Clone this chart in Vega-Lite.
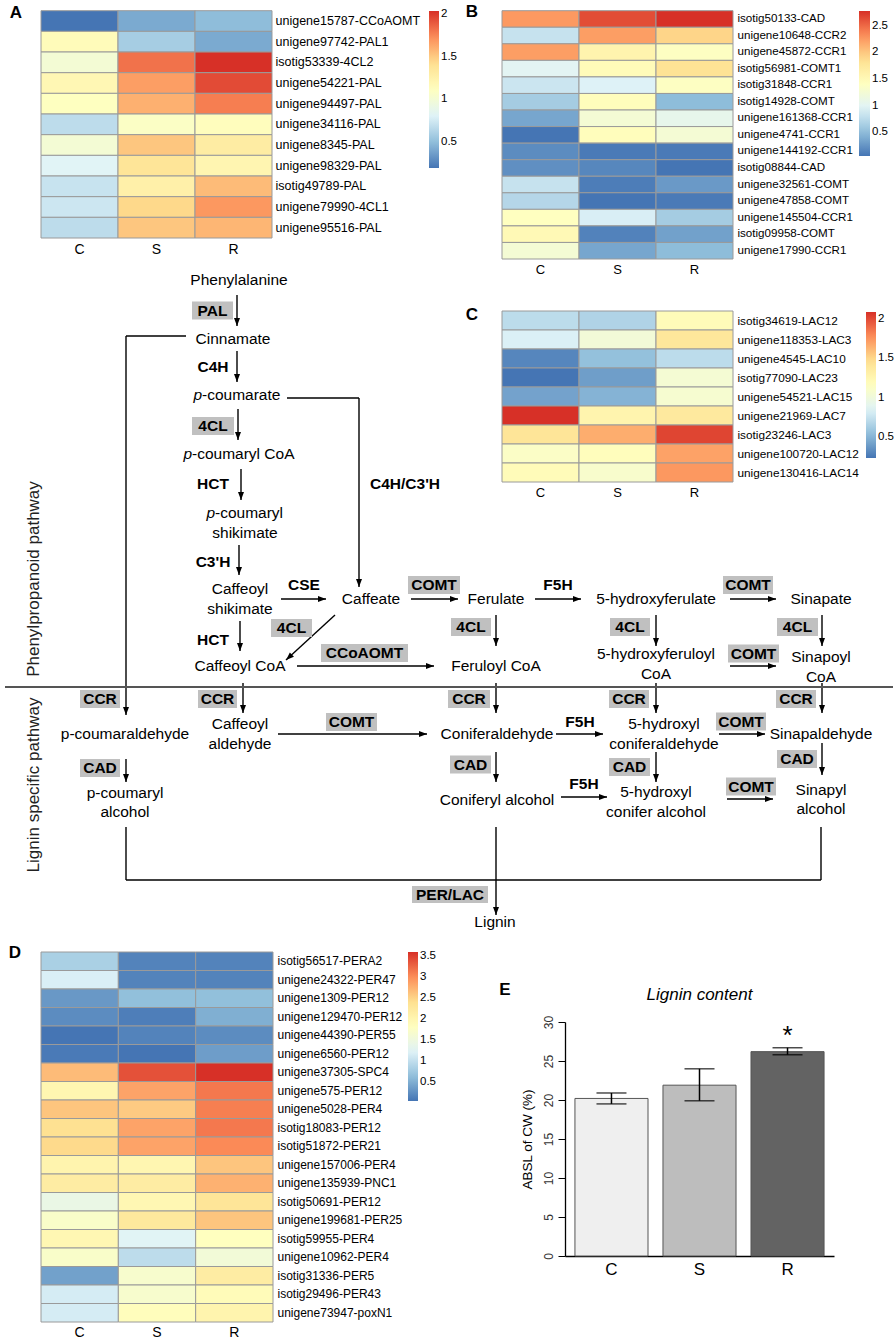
{
"$schema":"https://vega.github.io/schema/vega-lite/v6.json",
"width":895,"height":1339,"padding":0,"autosize":{"type":"none"},"background":"white",
"config":{"view":{"stroke":null},"font":"Liberation Sans"},
"datasets":{
"heatA":[
{"gene":"unigene15787-CCoAOMT","group":"C","value":0.19},{"gene":"unigene15787-CCoAOMT","group":"S","value":0.41},{"gene":"unigene15787-CCoAOMT","group":"R","value":0.49},
{"gene":"unigene97742-PAL1","group":"C","value":1.15},{"gene":"unigene97742-PAL1","group":"S","value":0.58},{"gene":"unigene97742-PAL1","group":"R","value":0.41},
{"gene":"isotig53339-4CL2","group":"C","value":1.0},{"gene":"isotig53339-4CL2","group":"S","value":1.82},{"gene":"isotig53339-4CL2","group":"R","value":2.04},
{"gene":"unigene54221-PAL","group":"C","value":1.19},{"gene":"unigene54221-PAL","group":"S","value":1.67},{"gene":"unigene54221-PAL","group":"R","value":1.95},
{"gene":"unigene94497-PAL","group":"C","value":1.11},{"gene":"unigene94497-PAL","group":"S","value":1.6},{"gene":"unigene94497-PAL","group":"R","value":1.78},
{"gene":"unigene34116-PAL","group":"C","value":0.67},{"gene":"unigene34116-PAL","group":"S","value":1.08},{"gene":"unigene34116-PAL","group":"R","value":1.13},
{"gene":"unigene8345-PAL","group":"C","value":1.0},{"gene":"unigene8345-PAL","group":"S","value":1.52},{"gene":"unigene8345-PAL","group":"R","value":1.3},
{"gene":"unigene98329-PAL","group":"C","value":0.82},{"gene":"unigene98329-PAL","group":"S","value":1.37},{"gene":"unigene98329-PAL","group":"R","value":1.21},
{"gene":"isotig49789-PAL","group":"C","value":0.71},{"gene":"isotig49789-PAL","group":"S","value":1.26},{"gene":"isotig49789-PAL","group":"R","value":1.56},
{"gene":"unigene79990-4CL1","group":"C","value":0.73},{"gene":"unigene79990-4CL1","group":"S","value":1.45},{"gene":"unigene79990-4CL1","group":"R","value":1.69},
{"gene":"unigene95516-PAL","group":"C","value":0.67},{"gene":"unigene95516-PAL","group":"S","value":1.52},{"gene":"unigene95516-PAL","group":"R","value":1.58}],
"heatB":[
{"gene":"isotig50133-CAD","group":"C","value":2.26},{"gene":"isotig50133-CAD","group":"S","value":2.64},{"gene":"isotig50133-CAD","group":"R","value":2.78},
{"gene":"unigene10648-CCR2","group":"C","value":0.81},{"gene":"unigene10648-CCR2","group":"S","value":2.23},{"gene":"unigene10648-CCR2","group":"R","value":1.93},
{"gene":"unigene45872-CCR1","group":"C","value":2.23},{"gene":"unigene45872-CCR1","group":"S","value":1.58},{"gene":"unigene45872-CCR1","group":"R","value":1.39},
{"gene":"isotig56981-COMT1","group":"C","value":1.0},{"gene":"isotig56981-COMT1","group":"S","value":1.47},{"gene":"isotig56981-COMT1","group":"R","value":1.82},
{"gene":"isotig31848-CCR1","group":"C","value":0.84},{"gene":"isotig31848-CCR1","group":"S","value":0.95},{"gene":"isotig31848-CCR1","group":"R","value":1.39},
{"gene":"isotig14928-COMT","group":"C","value":0.62},{"gene":"isotig14928-COMT","group":"S","value":1.44},{"gene":"isotig14928-COMT","group":"R","value":0.49},
{"gene":"unigene161368-CCR1","group":"C","value":0.35},{"gene":"unigene161368-CCR1","group":"S","value":1.25},{"gene":"unigene161368-CCR1","group":"R","value":1.06},
{"gene":"unigene4741-CCR1","group":"C","value":0.05},{"gene":"unigene4741-CCR1","group":"S","value":1.44},{"gene":"unigene4741-CCR1","group":"R","value":1.25},
{"gene":"unigene144192-CCR1","group":"C","value":0.19},{"gene":"unigene144192-CCR1","group":"S","value":0.08},{"gene":"unigene144192-CCR1","group":"R","value":0.08},
{"gene":"isotig08844-CAD","group":"C","value":0.21},{"gene":"isotig08844-CAD","group":"S","value":0.16},{"gene":"isotig08844-CAD","group":"R","value":0.05},
{"gene":"unigene32561-COMT","group":"C","value":0.81},{"gene":"unigene32561-COMT","group":"S","value":0.1},{"gene":"unigene32561-COMT","group":"R","value":0.27},
{"gene":"unigene47858-COMT","group":"C","value":0.71},{"gene":"unigene47858-COMT","group":"S","value":0.05},{"gene":"unigene47858-COMT","group":"R","value":0.08},
{"gene":"unigene145504-CCR1","group":"C","value":1.41},{"gene":"unigene145504-CCR1","group":"S","value":0.92},{"gene":"unigene145504-CCR1","group":"R","value":0.62},
{"gene":"isotig09958-COMT","group":"C","value":1.5},{"gene":"isotig09958-COMT","group":"S","value":0.13},{"gene":"isotig09958-COMT","group":"R","value":0.32},
{"gene":"unigene17990-CCR1","group":"C","value":1.25},{"gene":"unigene17990-CCR1","group":"S","value":0.35},{"gene":"unigene17990-CCR1","group":"R","value":0.49}],
"heatC":[
{"gene":"isotig34619-LAC12","group":"C","value":0.71},{"gene":"isotig34619-LAC12","group":"S","value":0.66},{"gene":"isotig34619-LAC12","group":"R","value":1.2},
{"gene":"unigene118353-LAC3","group":"C","value":0.83},{"gene":"unigene118353-LAC3","group":"S","value":1.03},{"gene":"unigene118353-LAC3","group":"R","value":1.4},
{"gene":"unigene4545-LAC10","group":"C","value":0.3},{"gene":"unigene4545-LAC10","group":"S","value":0.55},{"gene":"unigene4545-LAC10","group":"R","value":0.71},
{"gene":"isotig77090-LAC23","group":"C","value":0.23},{"gene":"isotig77090-LAC23","group":"S","value":0.4},{"gene":"isotig77090-LAC23","group":"R","value":1.05},
{"gene":"unigene54521-LAC15","group":"C","value":0.42},{"gene":"unigene54521-LAC15","group":"S","value":0.49},{"gene":"unigene54521-LAC15","group":"R","value":1.07},
{"gene":"unigene21969-LAC7","group":"C","value":2.09},{"gene":"unigene21969-LAC7","group":"S","value":1.27},{"gene":"unigene21969-LAC7","group":"R","value":1.38},
{"gene":"isotig23246-LAC3","group":"C","value":1.42},{"gene":"isotig23246-LAC3","group":"S","value":1.66},{"gene":"isotig23246-LAC3","group":"R","value":2.02},
{"gene":"unigene100720-LAC12","group":"C","value":1.12},{"gene":"unigene100720-LAC12","group":"S","value":1.18},{"gene":"unigene100720-LAC12","group":"R","value":1.7},
{"gene":"unigene130416-LAC14","group":"C","value":1.2},{"gene":"unigene130416-LAC14","group":"S","value":1.09},{"gene":"unigene130416-LAC14","group":"R","value":1.74}],
"heatD":[
{"gene":"isotig56517-PERA2","group":"C","value":0.83},{"gene":"isotig56517-PERA2","group":"S","value":0.16},{"gene":"isotig56517-PERA2","group":"R","value":0.16},
{"gene":"unigene24322-PER47","group":"C","value":1.19},{"gene":"unigene24322-PER47","group":"S","value":0.16},{"gene":"unigene24322-PER47","group":"R","value":0.16},
{"gene":"unigene1309-PER12","group":"C","value":0.33},{"gene":"unigene1309-PER12","group":"S","value":0.65},{"gene":"unigene1309-PER12","group":"R","value":0.65},
{"gene":"unigene129470-PER12","group":"C","value":0.23},{"gene":"unigene129470-PER12","group":"S","value":0.12},{"gene":"unigene129470-PER12","group":"R","value":0.51},
{"gene":"unigene44390-PER55","group":"C","value":0.05},{"gene":"unigene44390-PER55","group":"S","value":0.16},{"gene":"unigene44390-PER55","group":"R","value":0.23},
{"gene":"unigene6560-PER12","group":"C","value":0.09},{"gene":"unigene6560-PER12","group":"S","value":0.05},{"gene":"unigene6560-PER12","group":"R","value":0.37},
{"gene":"unigene37305-SPC4","group":"C","value":2.68},{"gene":"unigene37305-SPC4","group":"S","value":3.39},{"gene":"unigene37305-SPC4","group":"R","value":3.6},
{"gene":"unigene575-PER12","group":"C","value":2.0},{"gene":"unigene575-PER12","group":"S","value":2.85},{"gene":"unigene575-PER12","group":"R","value":3.14},
{"gene":"unigene5028-PER4","group":"C","value":2.61},{"gene":"unigene5028-PER4","group":"S","value":2.57},{"gene":"unigene5028-PER4","group":"R","value":3.1},
{"gene":"isotig18083-PER12","group":"C","value":2.39},{"gene":"isotig18083-PER12","group":"S","value":2.85},{"gene":"isotig18083-PER12","group":"R","value":3.14},
{"gene":"isotig51872-PER21","group":"C","value":2.46},{"gene":"isotig51872-PER21","group":"S","value":2.85},{"gene":"isotig51872-PER21","group":"R","value":3.03},
{"gene":"unigene157006-PER4","group":"C","value":2.04},{"gene":"unigene157006-PER4","group":"S","value":2.0},{"gene":"unigene157006-PER4","group":"R","value":2.61},
{"gene":"unigene135939-PNC1","group":"C","value":2.18},{"gene":"unigene135939-PNC1","group":"S","value":2.18},{"gene":"unigene135939-PNC1","group":"R","value":2.75},
{"gene":"isotig50691-PER12","group":"C","value":1.43},{"gene":"isotig50691-PER12","group":"S","value":1.97},{"gene":"isotig50691-PER12","group":"R","value":2.32},
{"gene":"unigene199681-PER25","group":"C","value":1.72},{"gene":"unigene199681-PER25","group":"S","value":2.25},{"gene":"unigene199681-PER25","group":"R","value":2.61},
{"gene":"isotig59955-PER4","group":"C","value":1.97},{"gene":"isotig59955-PER4","group":"S","value":1.26},{"gene":"isotig59955-PER4","group":"R","value":1.83},
{"gene":"unigene10962-PER4","group":"C","value":1.72},{"gene":"unigene10962-PER4","group":"S","value":0.97},{"gene":"unigene10962-PER4","group":"R","value":1.58},
{"gene":"isotig31336-PER5","group":"C","value":0.4},{"gene":"isotig31336-PER5","group":"S","value":1.68},{"gene":"isotig31336-PER5","group":"R","value":2.18},
{"gene":"isotig29496-PER43","group":"C","value":1.15},{"gene":"isotig29496-PER43","group":"S","value":1.68},{"gene":"isotig29496-PER43","group":"R","value":1.9},
{"gene":"unigene73947-poxN1","group":"C","value":1.15},{"gene":"unigene73947-poxN1","group":"S","value":1.86},{"gene":"unigene73947-poxN1","group":"R","value":2.04}],
"lignin":[
{"group":"C","mean":20.2,"lo":19.5,"hi":20.9,"sig":""},
{"group":"S","mean":21.9,"lo":19.9,"hi":24.0,"sig":""},
{"group":"R","mean":26.2,"lo":25.8,"hi":26.7,"sig":"*"}],
"nodes":[
{"label":"A","x":16,"y":13,"kind":"letter"},{"label":"B","x":472,"y":12,"kind":"letter"},{"label":"C","x":472,"y":315,"kind":"letter"},{"label":"D","x":15,"y":953,"kind":"letter"},{"label":"E","x":505,"y":990,"kind":"letter"},
{"label":"Phenylpropanoid pathway","x":34,"y":579,"kind":"side"},{"label":"Lignin specific pathway","x":34,"y":785,"kind":"side"},
{"label":"Phenylalanine","x":239,"y":280,"kind":"m"},
{"label":"Cinnamate","x":233,"y":339,"kind":"m"},
{"label":"p","x":202,"y":395,"kind":"pre"},{"label":"-coumarate","x":202,"y":395,"kind":"suf"},
{"label":"p","x":192,"y":454,"kind":"pre"},{"label":"-coumaryl CoA","x":192,"y":454,"kind":"suf"},
{"label":"p","x":215,"y":513,"kind":"pre"},{"label":"-coumaryl","x":215,"y":513,"kind":"suf"},
{"label":"shikimate","x":245,"y":533,"kind":"m"},
{"label":"Caffeoyl","x":240,"y":589,"kind":"m"},{"label":"shikimate","x":240,"y":609,"kind":"m"},
{"label":"Caffeate","x":371,"y":599,"kind":"m"},
{"label":"Ferulate","x":496,"y":599,"kind":"m"},
{"label":"5-hydroxyferulate","x":656,"y":599,"kind":"m"},
{"label":"Sinapate","x":821,"y":599,"kind":"m"},
{"label":"Caffeoyl CoA","x":240,"y":666,"kind":"m"},
{"label":"Feruloyl CoA","x":496,"y":666,"kind":"m"},
{"label":"5-hydroxyferuloyl","x":656,"y":654,"kind":"m"},{"label":"CoA","x":656,"y":674,"kind":"m"},
{"label":"Sinapoyl","x":821,"y":657,"kind":"m"},{"label":"CoA","x":821,"y":677,"kind":"m"},
{"label":"p-coumaraldehyde","x":125,"y":734,"kind":"m"},
{"label":"Caffeoyl","x":240,"y":724,"kind":"m"},{"label":"aldehyde","x":240,"y":744,"kind":"m"},
{"label":"Coniferaldehyde","x":497,"y":734,"kind":"m"},
{"label":"5-hydroxyl","x":664,"y":724,"kind":"m"},{"label":"coniferaldehyde","x":664,"y":744,"kind":"m"},
{"label":"Sinapaldehyde","x":821,"y":734,"kind":"m"},
{"label":"p-coumaryl","x":125,"y":793,"kind":"m"},{"label":"alcohol","x":125,"y":812,"kind":"m"},
{"label":"Coniferyl alcohol","x":497,"y":800,"kind":"m"},
{"label":"5-hydroxyl","x":656,"y":792,"kind":"m"},{"label":"conifer alcohol","x":656,"y":812,"kind":"m"},
{"label":"Sinapyl","x":821,"y":790,"kind":"m"},{"label":"alcohol","x":821,"y":809,"kind":"m"},
{"label":"Lignin","x":495,"y":922,"kind":"m"}],
"enzymes":[
{"label":"PAL","cx":212.5,"cy":310.5,"x0":192,"x1":233,"y0":301.5,"y1":319.5},
{"label":"C4H","cx":213,"cy":367},
{"label":"4CL","cx":213,"cy":426,"x0":192,"x1":234,"y0":417,"y1":435},
{"label":"HCT","cx":213,"cy":484},
{"label":"C3'H","cx":213,"cy":562},
{"label":"C4H/C3'H","cx":405,"cy":484},
{"label":"CSE","cx":304,"cy":585},
{"label":"COMT","cx":434,"cy":585,"x0":408,"x1":460,"y0":576,"y1":594},
{"label":"F5H","cx":558,"cy":585},
{"label":"COMT","cx":748,"cy":585,"x0":723,"x1":773,"y0":576,"y1":594},
{"label":"HCT","cx":213,"cy":640},
{"label":"4CL","cx":291.5,"cy":628,"x0":271,"x1":312,"y0":619,"y1":637},
{"label":"CCoAOMT","cx":364.5,"cy":653,"x0":321,"x1":408,"y0":644,"y1":662},
{"label":"4CL","cx":471,"cy":627,"x0":451,"x1":491,"y0":618,"y1":636},
{"label":"4CL","cx":630,"cy":627,"x0":610,"x1":650,"y0":618,"y1":636},
{"label":"COMT","cx":753.5,"cy":653.5,"x0":728,"x1":779,"y0":644.5,"y1":662.5},
{"label":"4CL","cx":797.5,"cy":627,"x0":777,"x1":818,"y0":618,"y1":636},
{"label":"CCR","cx":100,"cy":699,"x0":80,"x1":120,"y0":690,"y1":708},
{"label":"CCR","cx":217.5,"cy":699,"x0":198,"x1":237,"y0":690,"y1":708},
{"label":"CCR","cx":469,"cy":699,"x0":448,"x1":490,"y0":690,"y1":708},
{"label":"CCR","cx":629,"cy":699,"x0":609,"x1":649,"y0":690,"y1":708},
{"label":"CCR","cx":796,"cy":699,"x0":776,"x1":816,"y0":690,"y1":708},
{"label":"COMT","cx":351.5,"cy":722,"x0":326,"x1":377,"y0":713,"y1":731},
{"label":"F5H","cx":580,"cy":722},
{"label":"COMT","cx":741,"cy":721.5,"x0":716,"x1":766,"y0":712.5,"y1":730.5},
{"label":"CAD","cx":100,"cy":768,"x0":80,"x1":120,"y0":759,"y1":777},
{"label":"CAD","cx":470.5,"cy":764.5,"x0":450,"x1":491,"y0":755.5,"y1":773.5},
{"label":"CAD","cx":629.5,"cy":767,"x0":609,"x1":650,"y0":758,"y1":776},
{"label":"CAD","cx":797,"cy":759,"x0":777,"x1":817,"y0":750,"y1":768},
{"label":"F5H","cx":584,"cy":784},
{"label":"COMT","cx":751,"cy":786.5,"x0":726,"x1":776,"y0":777.5,"y1":795.5},
{"label":"PER/LAC","cx":450,"cy":894.5,"x0":412,"x1":488,"y0":886,"y1":903}],
"links":[
{"x1":237,"y1":295,"x2":237,"y2":326,"head":"down"},
{"x1":237,"y1":351,"x2":237,"y2":382,"head":"down"},
{"x1":238,"y1":409,"x2":238,"y2":440,"head":"down"},
{"x1":241,"y1":469,"x2":241,"y2":500,"head":"down"},
{"x1":239,"y1":545,"x2":239,"y2":575,"head":"down"},
{"x1":186,"y1":336,"x2":126,"y2":336,"head":"none"},
{"x1":126,"y1":336,"x2":126,"y2":715,"head":"down"},
{"x1":287,"y1":398,"x2":359,"y2":398,"head":"none"},
{"x1":359,"y1":398,"x2":359,"y2":587,"head":"down"},
{"x1":281,"y1":599,"x2":326,"y2":599,"head":"right"},
{"x1":411,"y1":599,"x2":458,"y2":599,"head":"right"},
{"x1":535,"y1":599,"x2":581,"y2":599,"head":"right"},
{"x1":730,"y1":599,"x2":776,"y2":599,"head":"right"},
{"x1":240,"y1":621,"x2":240,"y2":651,"head":"down"},
{"x1":335,"y1":615,"x2":286,"y2":660,"head":"dl"},
{"x1":297,"y1":666,"x2":434,"y2":666,"head":"right"},
{"x1":496,"y1":615,"x2":496,"y2":646,"head":"down"},
{"x1":656,"y1":615,"x2":656,"y2":646,"head":"down"},
{"x1":822,"y1":615,"x2":822,"y2":646,"head":"down"},
{"x1":730,"y1":666,"x2":776,"y2":666,"head":"right"},
{"x1":5,"y1":687,"x2":893,"y2":687,"head":"divider"},
{"x1":243,"y1":683,"x2":243,"y2":713,"head":"down"},
{"x1":496,"y1":683,"x2":496,"y2":713,"head":"down"},
{"x1":656,"y1":683,"x2":656,"y2":713,"head":"down"},
{"x1":822,"y1":683,"x2":822,"y2":713,"head":"down"},
{"x1":278,"y1":734,"x2":427,"y2":734,"head":"right"},
{"x1":556,"y1":734,"x2":603,"y2":734,"head":"right"},
{"x1":719,"y1":734,"x2":765,"y2":734,"head":"right"},
{"x1":126,"y1":759,"x2":126,"y2":782,"head":"down"},
{"x1":496,"y1":752,"x2":496,"y2":782,"head":"down"},
{"x1":656,"y1":752,"x2":656,"y2":782,"head":"down"},
{"x1":822,"y1":743,"x2":822,"y2":775,"head":"down"},
{"x1":561,"y1":797,"x2":607,"y2":797,"head":"right"},
{"x1":727,"y1":799,"x2":773,"y2":799,"head":"right"},
{"x1":126,"y1":827,"x2":126,"y2":880,"head":"none"},
{"x1":126,"y1":880,"x2":821,"y2":880,"head":"none"},
{"x1":821,"y1":827,"x2":821,"y2":880,"head":"none"},
{"x1":496,"y1":827,"x2":496,"y2":915,"head":"down"}]
},
"resolve":{"scale":{"x":"independent","y":"independent","color":"independent","shape":"independent"},"axis":{"x":"independent","y":"independent"},"legend":{"color":"independent"}},
"layer":[
{"data":{"name":"heatA"},"mark":{"type":"rect","stroke":"#9a9a9a","strokeWidth":1},
"encoding":{
"x":{"field":"group","type":"nominal","sort":["C","S","R"],"scale":{"range":[41,272],"paddingInner":0,"paddingOuter":0},"axis":{"orient":"bottom","offset":-1101,"title":null,"domain":false,"ticks":false,"labelAngle":0,"labelFont":"Liberation Sans","labelFontSize":14,"labelColor":"black","labelPadding":4}},
"y":{"field":"gene","type":"nominal","sort":null,"scale":{"range":[10.7,238],"paddingInner":0,"paddingOuter":0},"axis":{"orient":"right","offset":-623,"title":null,"domain":false,"ticks":false,"labelFont":"Liberation Sans","labelFontSize":12.5,"labelColor":"black","labelPadding":3,"labelLimit":300}},
"color":{"field":"value","type":"quantitative","scale":{"domain":[0.19,0.4983,0.8067,1.115,1.4233,1.7317,2.04],"range":["#4575b4","#91bfdb","#e0f3f8","#ffffbf","#fee090","#fc8d59","#d73027"],"interpolate":"rgb"},
"legend":{"orient":"none","legendX":429,"legendY":11,"title":null,"direction":"vertical","gradientLength":157,"gradientThickness":10,"values":[0.5,1,1.5,2],"format":".2~g","labelFont":"Liberation Sans","labelFontSize":11.5,"labelColor":"black","labelOverlap":false,"padding":0,"gradientStrokeWidth":0}}}},
{"data":{"name":"heatB"},"mark":{"type":"rect","stroke":"#9a9a9a","strokeWidth":1},
"encoding":{
"x":{"field":"group","type":"nominal","sort":["C","S","R"],"scale":{"range":[502,733],"paddingInner":0,"paddingOuter":0},"axis":{"orient":"bottom","offset":-1080,"title":null,"domain":false,"ticks":false,"labelAngle":0,"labelFont":"Liberation Sans","labelFontSize":13,"labelColor":"black","labelPadding":4}},
"y":{"field":"gene","type":"nominal","sort":null,"scale":{"range":[10.7,259],"paddingInner":0,"paddingOuter":0},"axis":{"orient":"right","offset":-162,"title":null,"domain":false,"ticks":false,"labelFont":"Liberation Sans","labelFontSize":11.6,"labelColor":"black","labelPadding":4,"labelLimit":300}},
"color":{"field":"value","type":"quantitative","scale":{"domain":[0.05,0.505,0.96,1.415,1.87,2.325,2.78],"range":["#4575b4","#91bfdb","#e0f3f8","#ffffbf","#fee090","#fc8d59","#d73027"],"interpolate":"rgb"},
"legend":{"orient":"none","legendX":859,"legendY":11,"title":null,"direction":"vertical","gradientLength":145,"gradientThickness":11,"values":[0.5,1,1.5,2,2.5],"format":".2~g","labelFont":"Liberation Sans","labelFontSize":11.5,"labelColor":"black","labelOverlap":false,"padding":0,"gradientStrokeWidth":0}}}},
{"data":{"name":"heatC"},"mark":{"type":"rect","stroke":"#9a9a9a","strokeWidth":1},
"encoding":{
"x":{"field":"group","type":"nominal","sort":["C","S","R"],"scale":{"range":[502,733],"paddingInner":0,"paddingOuter":0},"axis":{"orient":"bottom","offset":-857,"title":null,"domain":false,"ticks":false,"labelAngle":0,"labelFont":"Liberation Sans","labelFontSize":13,"labelColor":"black","labelPadding":4}},
"y":{"field":"gene","type":"nominal","sort":null,"scale":{"range":[311,482],"paddingInner":0,"paddingOuter":0},"axis":{"orient":"right","offset":-162,"title":null,"domain":false,"ticks":false,"labelFont":"Liberation Sans","labelFontSize":11.8,"labelColor":"black","labelPadding":4,"labelLimit":300}},
"color":{"field":"value","type":"quantitative","scale":{"domain":[0.23,0.54,0.85,1.16,1.47,1.78,2.09],"range":["#4575b4","#91bfdb","#e0f3f8","#ffffbf","#fee090","#fc8d59","#d73027"],"interpolate":"rgb"},
"legend":{"orient":"none","legendX":866,"legendY":312,"title":null,"direction":"vertical","gradientLength":146,"gradientThickness":10,"values":[0.5,1,1.5,2],"format":".2~g","labelFont":"Liberation Sans","labelFontSize":11.5,"labelColor":"black","labelOverlap":false,"padding":0,"gradientStrokeWidth":0}}}},
{"data":{"name":"heatD"},"mark":{"type":"rect","stroke":"#9a9a9a","strokeWidth":1},
"encoding":{
"x":{"field":"group","type":"nominal","sort":["C","S","R"],"scale":{"range":[41,273],"paddingInner":0,"paddingOuter":0},"axis":{"orient":"bottom","offset":-17,"title":null,"domain":false,"ticks":false,"labelAngle":0,"labelFont":"Liberation Sans","labelFontSize":14,"labelColor":"black","labelPadding":3}},
"y":{"field":"gene","type":"nominal","sort":null,"scale":{"range":[952,1322],"paddingInner":0,"paddingOuter":0},"axis":{"orient":"right","offset":-622,"title":null,"domain":false,"ticks":false,"labelFont":"Liberation Sans","labelFontSize":12,"labelColor":"black","labelPadding":4,"labelLimit":300}},
"color":{"field":"value","type":"quantitative","scale":{"domain":[0.05,0.6417,1.2333,1.825,2.4167,3.0083,3.6],"range":["#4575b4","#91bfdb","#e0f3f8","#ffffbf","#fee090","#fc8d59","#d73027"],"interpolate":"rgb"},
"legend":{"orient":"none","legendX":408,"legendY":952,"title":null,"direction":"vertical","gradientLength":149,"gradientThickness":10,"values":[0.5,1,1.5,2,2.5,3,3.5],"format":".2~g","labelFont":"Liberation Sans","labelFontSize":11.5,"labelColor":"black","labelOverlap":false,"padding":0,"gradientStrokeWidth":0}}}},
{"data":{"name":"lignin"},
"layer":[
{"mark":{"type":"bar","stroke":"#555555","strokeWidth":1},
"encoding":{
"x":{"field":"group","type":"nominal","sort":["C","S","R"],"scale":{"range":[565,834],"paddingInner":0.17,"paddingOuter":0.113},"axis":{"orient":"bottom","offset":-83,"title":null,"domain":true,"domainColor":"black","domainWidth":1.3,"ticks":false,"labelAngle":0,"labelFont":"Liberation Sans","labelFontSize":17,"labelColor":"black","labelPadding":5}},
"y":{"field":"mean","type":"quantitative","scale":{"domain":[0,30],"range":[1256,1022],"nice":false,"zero":true},"axis":{"orient":"left","offset":-565,"values":[0,5,10,15,20,25,30],"grid":false,"title":"ABSL of CW (%)","titleFont":"Liberation Sans","titleFontSize":13.5,"titleFontWeight":"normal","titleColor":"black","titlePadding":8,"labelAngle":-90,"labelFont":"Liberation Sans","labelFontSize":12,"labelColor":"#333333","labelPadding":3,"tickSize":7,"tickColor":"black","domainColor":"black","domainWidth":1.3}},
"color":{"field":"group","type":"nominal","scale":{"domain":["C","S","R"],"range":["#efefef","#bdbdbd","#636363"]},"legend":null}}},
{"mark":{"type":"rule","color":"black","strokeWidth":1.5},
"encoding":{
"x":{"field":"group","type":"nominal","sort":["C","S","R"],"scale":{"range":[565,834],"paddingInner":0.17,"paddingOuter":0.113},"axis":{"orient":"bottom","offset":-83,"title":null,"domain":true,"domainColor":"black","domainWidth":1.3,"ticks":false,"labelAngle":0,"labelFont":"Liberation Sans","labelFontSize":17,"labelColor":"black","labelPadding":5}},
"y":{"field":"lo","type":"quantitative","scale":{"domain":[0,30],"range":[1256,1022],"nice":false,"zero":true},"axis":{"orient":"left","offset":-565,"values":[0,5,10,15,20,25,30],"grid":false,"title":"ABSL of CW (%)","titleFont":"Liberation Sans","titleFontSize":13.5,"titleFontWeight":"normal","titleColor":"black","titlePadding":8,"labelAngle":-90,"labelFont":"Liberation Sans","labelFontSize":12,"labelColor":"#333333","labelPadding":3,"tickSize":7,"tickColor":"black","domainColor":"black","domainWidth":1.3}},
"y2":{"field":"hi"}}},
{"mark":{"type":"tick","orient":"horizontal","size":30,"thickness":1.5,"color":"black"},
"encoding":{
"x":{"field":"group","type":"nominal","sort":["C","S","R"],"scale":{"range":[565,834],"paddingInner":0.17,"paddingOuter":0.113},"axis":{"orient":"bottom","offset":-83,"title":null,"domain":true,"domainColor":"black","domainWidth":1.3,"ticks":false,"labelAngle":0,"labelFont":"Liberation Sans","labelFontSize":17,"labelColor":"black","labelPadding":5}},
"y":{"field":"lo","type":"quantitative","scale":{"domain":[0,30],"range":[1256,1022],"nice":false,"zero":true},"axis":{"orient":"left","offset":-565,"values":[0,5,10,15,20,25,30],"grid":false,"title":"ABSL of CW (%)","titleFont":"Liberation Sans","titleFontSize":13.5,"titleFontWeight":"normal","titleColor":"black","titlePadding":8,"labelAngle":-90,"labelFont":"Liberation Sans","labelFontSize":12,"labelColor":"#333333","labelPadding":3,"tickSize":7,"tickColor":"black","domainColor":"black","domainWidth":1.3}}}},
{"mark":{"type":"tick","orient":"horizontal","size":30,"thickness":1.5,"color":"black"},
"encoding":{
"x":{"field":"group","type":"nominal","sort":["C","S","R"],"scale":{"range":[565,834],"paddingInner":0.17,"paddingOuter":0.113},"axis":{"orient":"bottom","offset":-83,"title":null,"domain":true,"domainColor":"black","domainWidth":1.3,"ticks":false,"labelAngle":0,"labelFont":"Liberation Sans","labelFontSize":17,"labelColor":"black","labelPadding":5}},
"y":{"field":"hi","type":"quantitative","scale":{"domain":[0,30],"range":[1256,1022],"nice":false,"zero":true},"axis":{"orient":"left","offset":-565,"values":[0,5,10,15,20,25,30],"grid":false,"title":"ABSL of CW (%)","titleFont":"Liberation Sans","titleFontSize":13.5,"titleFontWeight":"normal","titleColor":"black","titlePadding":8,"labelAngle":-90,"labelFont":"Liberation Sans","labelFontSize":12,"labelColor":"#333333","labelPadding":3,"tickSize":7,"tickColor":"black","domainColor":"black","domainWidth":1.3}}}},
{"mark":{"type":"text","font":"Liberation Sans","fontSize":26,"baseline":"middle","dy":-12,"color":"black"},
"encoding":{
"x":{"field":"group","type":"nominal","sort":["C","S","R"],"scale":{"range":[565,834],"paddingInner":0.17,"paddingOuter":0.113},"axis":{"orient":"bottom","offset":-83,"title":null,"domain":true,"domainColor":"black","domainWidth":1.3,"ticks":false,"labelAngle":0,"labelFont":"Liberation Sans","labelFontSize":17,"labelColor":"black","labelPadding":5}},
"y":{"field":"hi","type":"quantitative","scale":{"domain":[0,30],"range":[1256,1022],"nice":false,"zero":true},"axis":{"orient":"left","offset":-565,"values":[0,5,10,15,20,25,30],"grid":false,"title":"ABSL of CW (%)","titleFont":"Liberation Sans","titleFontSize":13.5,"titleFontWeight":"normal","titleColor":"black","titlePadding":8,"labelAngle":-90,"labelFont":"Liberation Sans","labelFontSize":12,"labelColor":"#333333","labelPadding":3,"tickSize":7,"tickColor":"black","domainColor":"black","domainWidth":1.3}},
"text":{"field":"sig"}}},
{"data":{"values":[{"group":"S","pos":33.5,"title":"Lignin content"}]},"mark":{"type":"text","font":"Liberation Sans","fontSize":17,"fontStyle":"italic","baseline":"middle","color":"black"},
"encoding":{
"x":{"field":"group","type":"nominal","sort":["C","S","R"],"scale":{"range":[565,834],"paddingInner":0.17,"paddingOuter":0.113},"axis":{"orient":"bottom","offset":-83,"title":null,"domain":true,"domainColor":"black","domainWidth":1.3,"ticks":false,"labelAngle":0,"labelFont":"Liberation Sans","labelFontSize":17,"labelColor":"black","labelPadding":5}},
"y":{"field":"pos","type":"quantitative","scale":{"domain":[0,30],"range":[1256,1022],"nice":false,"zero":true},"axis":{"orient":"left","offset":-565,"values":[0,5,10,15,20,25,30],"grid":false,"title":"ABSL of CW (%)","titleFont":"Liberation Sans","titleFontSize":13.5,"titleFontWeight":"normal","titleColor":"black","titlePadding":8,"labelAngle":-90,"labelFont":"Liberation Sans","labelFontSize":12,"labelColor":"#333333","labelPadding":3,"tickSize":7,"tickColor":"black","domainColor":"black","domainWidth":1.3}},
"text":{"field":"title"}}}
]},
{"layer":[
{"data":{"name":"links"},"transform":[{"filter":"datum.head != 'divider'"}],"mark":{"type":"rule","color":"black","strokeWidth":1.4},
"encoding":{"x":{"field":"x1","type":"quantitative","scale":{"domain":[0,895],"range":[0,895],"nice":false,"zero":false},"axis":null},"y":{"field":"y1","type":"quantitative","scale":{"domain":[0,1339],"range":[0,1339],"nice":false,"zero":false},"axis":null},"x2":{"field":"x2"},"y2":{"field":"y2"}}},
{"data":{"name":"links"},"transform":[{"filter":"datum.head == 'divider'"}],"mark":{"type":"rule","color":"#555555","strokeWidth":2.2},
"encoding":{"x":{"field":"x1","type":"quantitative","axis":null},"y":{"field":"y1","type":"quantitative","axis":null},"x2":{"field":"x2"},"y2":{"field":"y2"}}},
{"data":{"name":"links"},"transform":[{"filter":"datum.head == 'down' || datum.head == 'right' || datum.head == 'dl'"}],"mark":{"type":"point","filled":true,"opacity":1,"size":100,"color":"black","strokeWidth":0},
"encoding":{"x":{"field":"x2","type":"quantitative","axis":null},"y":{"field":"y2","type":"quantitative","axis":null},
"shape":{"field":"head","type":"nominal","scale":{"domain":["down","right","dl"],"range":["M-0.6,-1.6L0,0L0.6,-1.6Z","M-1.6,-0.6L0,0L-1.6,0.6Z","M1.59,-0.64L0,0L0.77,-1.52Z"]},"legend":null}}},
{"data":{"name":"enzymes"},"transform":[{"filter":"isValid(datum.x0)"}],"mark":{"type":"rect","color":"#c0c0c0"},
"encoding":{"x":{"field":"x0","type":"quantitative","axis":null},"x2":{"field":"x1"},"y":{"field":"y0","type":"quantitative","axis":null},"y2":{"field":"y1"}}},
{"data":{"name":"enzymes"},"mark":{"type":"text","font":"Liberation Sans","fontSize":15.5,"fontWeight":"bold","align":"center","baseline":"middle","color":"black"},
"encoding":{"x":{"field":"cx","type":"quantitative","axis":null},"y":{"field":"cy","type":"quantitative","axis":null},"text":{"field":"label"}}},
{"data":{"name":"nodes"},"transform":[{"filter":"datum.kind == 'm'"}],"mark":{"type":"text","font":"Liberation Sans","fontSize":15.5,"align":"center","baseline":"middle","color":"black"},
"encoding":{"x":{"field":"x","type":"quantitative","axis":null},"y":{"field":"y","type":"quantitative","axis":null},"text":{"field":"label"}}},
{"data":{"name":"nodes"},"transform":[{"filter":"datum.kind == 'pre'"}],"mark":{"type":"text","font":"Liberation Sans","fontSize":15.5,"fontStyle":"italic","align":"right","baseline":"middle","color":"black"},
"encoding":{"x":{"field":"x","type":"quantitative","axis":null},"y":{"field":"y","type":"quantitative","axis":null},"text":{"field":"label"}}},
{"data":{"name":"nodes"},"transform":[{"filter":"datum.kind == 'suf'"}],"mark":{"type":"text","font":"Liberation Sans","fontSize":15.5,"align":"left","baseline":"middle","color":"black"},
"encoding":{"x":{"field":"x","type":"quantitative","axis":null},"y":{"field":"y","type":"quantitative","axis":null},"text":{"field":"label"}}},
{"data":{"name":"nodes"},"transform":[{"filter":"datum.kind == 'side'"}],"mark":{"type":"text","font":"Liberation Sans","fontSize":17,"angle":270,"align":"center","baseline":"middle","color":"#222222"},
"encoding":{"x":{"field":"x","type":"quantitative","axis":null},"y":{"field":"y","type":"quantitative","axis":null},"text":{"field":"label"}}},
{"data":{"name":"nodes"},"transform":[{"filter":"datum.kind == 'letter'"}],"mark":{"type":"text","font":"Liberation Sans","fontSize":17,"fontWeight":"bold","align":"center","baseline":"middle","color":"black"},
"encoding":{"x":{"field":"x","type":"quantitative","axis":null},"y":{"field":"y","type":"quantitative","axis":null},"text":{"field":"label"}}}
]}
]
}
